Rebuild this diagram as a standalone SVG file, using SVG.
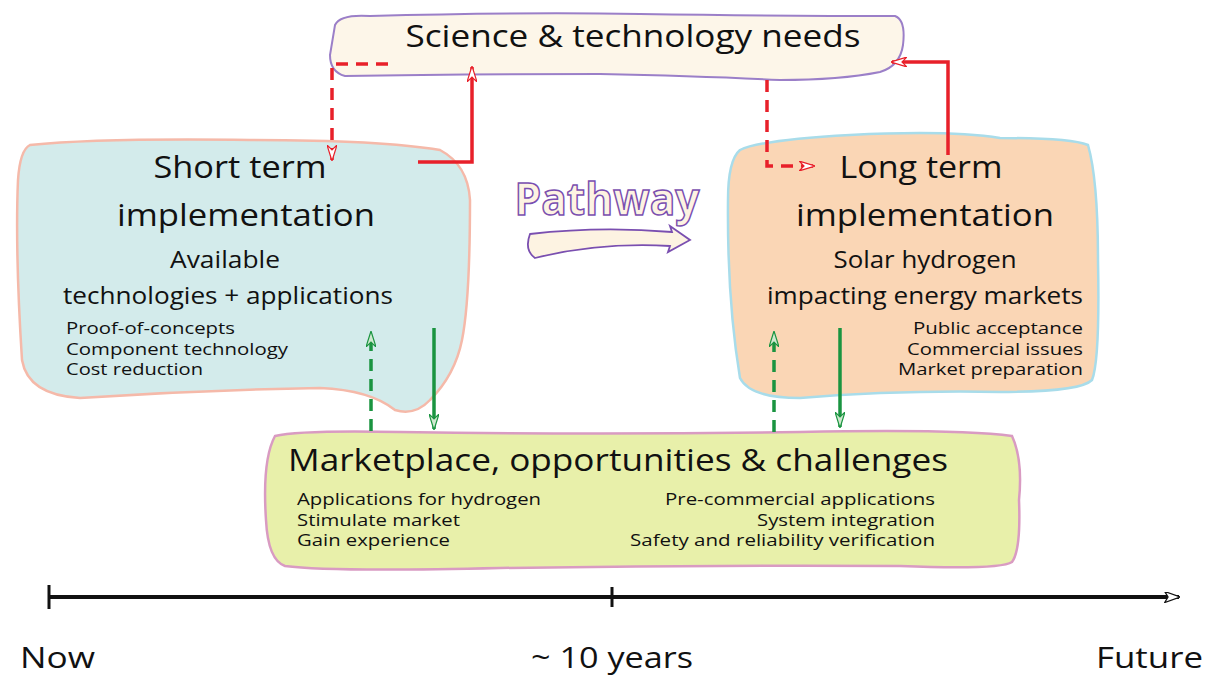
<svg xmlns="http://www.w3.org/2000/svg" width="1207" height="676" viewBox="0 0 1207 676">
<style>
text{font-family:"Open Sans","Noto Sans","Liberation Sans",sans-serif;fill:#111}
.big{font-size:31px}
.mid{font-size:23px}
.sm{font-size:15.5px}
.red{stroke:#e8202a;stroke-width:3.5;fill:none}
.dash{stroke-dasharray:12,8}
.grn{stroke:#1a9440;stroke-width:3.5;fill:none}
</style>
<defs>
<marker id="ar" viewBox="0 0 16 10" refX="15" refY="5" markerWidth="16" markerHeight="10" markerUnits="userSpaceOnUse" orient="auto"><path d="M0,0 L16,5 L0,10 L5,5 Z" fill="#fff" stroke="#e8202a" stroke-width="1.2"/></marker>
<marker id="ag" viewBox="0 0 16 10" refX="15" refY="5" markerWidth="16" markerHeight="10" markerUnits="userSpaceOnUse" orient="auto"><path d="M0,0 L16,5 L0,10 L5,5 Z" fill="#cfe8cf" stroke="#1a9440" stroke-width="1.2"/></marker>
<marker id="ak" viewBox="0 0 14 10" refX="13" refY="5" markerWidth="16" markerHeight="11" markerUnits="userSpaceOnUse" orient="auto"><path d="M0,0 L14,5 L0,10 L3,5 Z" fill="#fff" stroke="#111" stroke-width="1.2"/></marker>
</defs>

<g id="science">
<path d="M335,25 Q340,14 370,16 Q520,12 640,14 Q780,16 895,16 Q906,20 903,45 Q900,66 880,72 Q840,80 780,80 Q700,76 600,74 Q450,74 345,76 Q330,72 330,55 Z" fill="#fdf6e9" stroke="#9b7fc8" stroke-width="2"/>
<text x="633" y="47" class="big" text-anchor="middle" font-size="30" textLength="455" lengthAdjust="spacingAndGlyphs">Science &amp; technology needs</text>
</g>

<g id="short-term">
<path d="M30,145 Q100,138 250,140 Q380,140 440,150 Q468,165 470,200 Q470,300 462,340 Q455,375 430,400 Q415,416 395,410 Q370,390 320,388 Q200,390 80,398 Q28,395 22,360 Q15,250 18,180 Q20,150 30,145 Z" fill="#d3ebeb" stroke="#f5b9a9" stroke-width="2.5"/>
<text x="240" y="178" class="big" text-anchor="middle" textLength="173" lengthAdjust="spacingAndGlyphs">Short term</text>
<text x="246" y="226" class="big" text-anchor="middle" textLength="258" lengthAdjust="spacingAndGlyphs">implementation</text>
<text x="225" y="268" class="mid" text-anchor="middle" textLength="110" lengthAdjust="spacingAndGlyphs">Available</text>
<text x="228" y="304" class="mid" text-anchor="middle" textLength="330" lengthAdjust="spacingAndGlyphs">technologies + applications</text>
<text x="66" y="334" class="sm" textLength="169" lengthAdjust="spacingAndGlyphs">Proof-of-concepts</text>
<text x="66" y="355" class="sm" textLength="222" lengthAdjust="spacingAndGlyphs">Component technology</text>
<text x="66" y="375" class="sm" textLength="137" lengthAdjust="spacingAndGlyphs">Cost reduction</text>
</g>

<g id="long-term">
<path d="M740,150 Q760,140 850,135 Q950,130 1000,138 Q1070,138 1088,145 Q1098,180 1098,260 Q1100,360 1092,380 Q1080,392 1000,392 Q900,390 800,398 Q750,398 740,378 Q727,300 728,200 Q728,160 740,150 Z" fill="#fad6b5" stroke="#a8dcea" stroke-width="2.5"/>
<text x="921" y="178" class="big" text-anchor="middle" textLength="163" lengthAdjust="spacingAndGlyphs">Long term</text>
<text x="925" y="226" class="big" text-anchor="middle" textLength="258" lengthAdjust="spacingAndGlyphs">implementation</text>
<text x="925" y="268" class="mid" text-anchor="middle" textLength="183" lengthAdjust="spacingAndGlyphs">Solar hydrogen</text>
<text x="925" y="304" class="mid" text-anchor="middle" textLength="316" lengthAdjust="spacingAndGlyphs">impacting energy markets</text>
<text x="1083" y="334" class="sm" text-anchor="end" textLength="170" lengthAdjust="spacingAndGlyphs">Public acceptance</text>
<text x="1083" y="355" class="sm" text-anchor="end" textLength="176" lengthAdjust="spacingAndGlyphs">Commercial issues</text>
<text x="1083" y="375" class="sm" text-anchor="end" textLength="185" lengthAdjust="spacingAndGlyphs">Market preparation</text>
</g>

<g id="marketplace">
<path d="M275,436 Q300,430 400,432 Q600,435 800,432 Q960,429 1012,436 Q1023,460 1019,500 Q1021,550 1012,562 Q1000,570 900,566 Q700,565 500,568 Q330,572 285,566 Q268,560 266,520 Q262,460 275,436 Z" fill="#e8f0aa" stroke="#d99bc2" stroke-width="2.5"/>
<text x="618" y="471" class="big" text-anchor="middle" textLength="660" lengthAdjust="spacingAndGlyphs">Marketplace, opportunities &amp; challenges</text>
<text x="297" y="505" class="sm" textLength="244" lengthAdjust="spacingAndGlyphs">Applications for hydrogen</text>
<text x="297" y="526" class="sm" textLength="163" lengthAdjust="spacingAndGlyphs">Stimulate market</text>
<text x="297" y="546" class="sm" textLength="153" lengthAdjust="spacingAndGlyphs">Gain experience</text>
<text x="935" y="505" class="sm" text-anchor="end" textLength="270" lengthAdjust="spacingAndGlyphs">Pre-commercial applications</text>
<text x="935" y="526" class="sm" text-anchor="end" textLength="178" lengthAdjust="spacingAndGlyphs">System integration</text>
<text x="935" y="546" class="sm" text-anchor="end" textLength="305" lengthAdjust="spacingAndGlyphs">Safety and reliability verification</text>
</g>

<g id="pathway">
<text x="607" y="215" text-anchor="middle" font-size="44" font-weight="bold" style="fill:#fdf3e2;stroke:#7a4fb0;stroke-width:1.5" textLength="185" lengthAdjust="spacingAndGlyphs">Pathway</text>
<path d="M530,234 Q600,226 672,232 L670,226 L690,240 L668,252 L670,246 Q600,242 535,258 Q524,250 530,234 Z" fill="#fdf3e2" stroke="#7a4fb0" stroke-width="1.8"/>
</g>

<g id="connectors">
<polyline class="red" points="418,162 472,162 472,67" marker-end="url(#ar)"/>
<polyline class="red dash" points="388,64 332,64 332,160" marker-end="url(#ar)"/>
<polyline class="red dash" points="767,80 767,166 814,166" marker-end="url(#ar)"/>
<polyline class="red" points="948,155 948,62 892,62" marker-end="url(#ar)"/>
<line class="grn dash" x1="371" y1="431" x2="371" y2="332" marker-end="url(#ag)"/>
<line class="grn" x1="434" y1="328" x2="434" y2="429" marker-end="url(#ag)"/>
<line class="grn dash" x1="774" y1="432" x2="774" y2="332" marker-end="url(#ag)"/>
<line class="grn" x1="840" y1="328" x2="840" y2="427" marker-end="url(#ag)"/>
</g>

<g id="timeline">
<line x1="48" y1="597" x2="1179" y2="597" stroke="#111" stroke-width="4" marker-end="url(#ak)"/>
<line x1="49" y1="585" x2="49" y2="609" stroke="#111" stroke-width="3"/>
<line x1="612" y1="587" x2="612" y2="607" stroke="#111" stroke-width="3"/>
<text x="20" y="668" font-size="30" textLength="75" lengthAdjust="spacingAndGlyphs">Now</text>
<text x="612" y="668" font-size="30" text-anchor="middle" textLength="162" lengthAdjust="spacingAndGlyphs">~ 10 years</text>
<text x="1203" y="668" font-size="30" text-anchor="end" textLength="107" lengthAdjust="spacingAndGlyphs">Future</text>
</g>
</svg>
